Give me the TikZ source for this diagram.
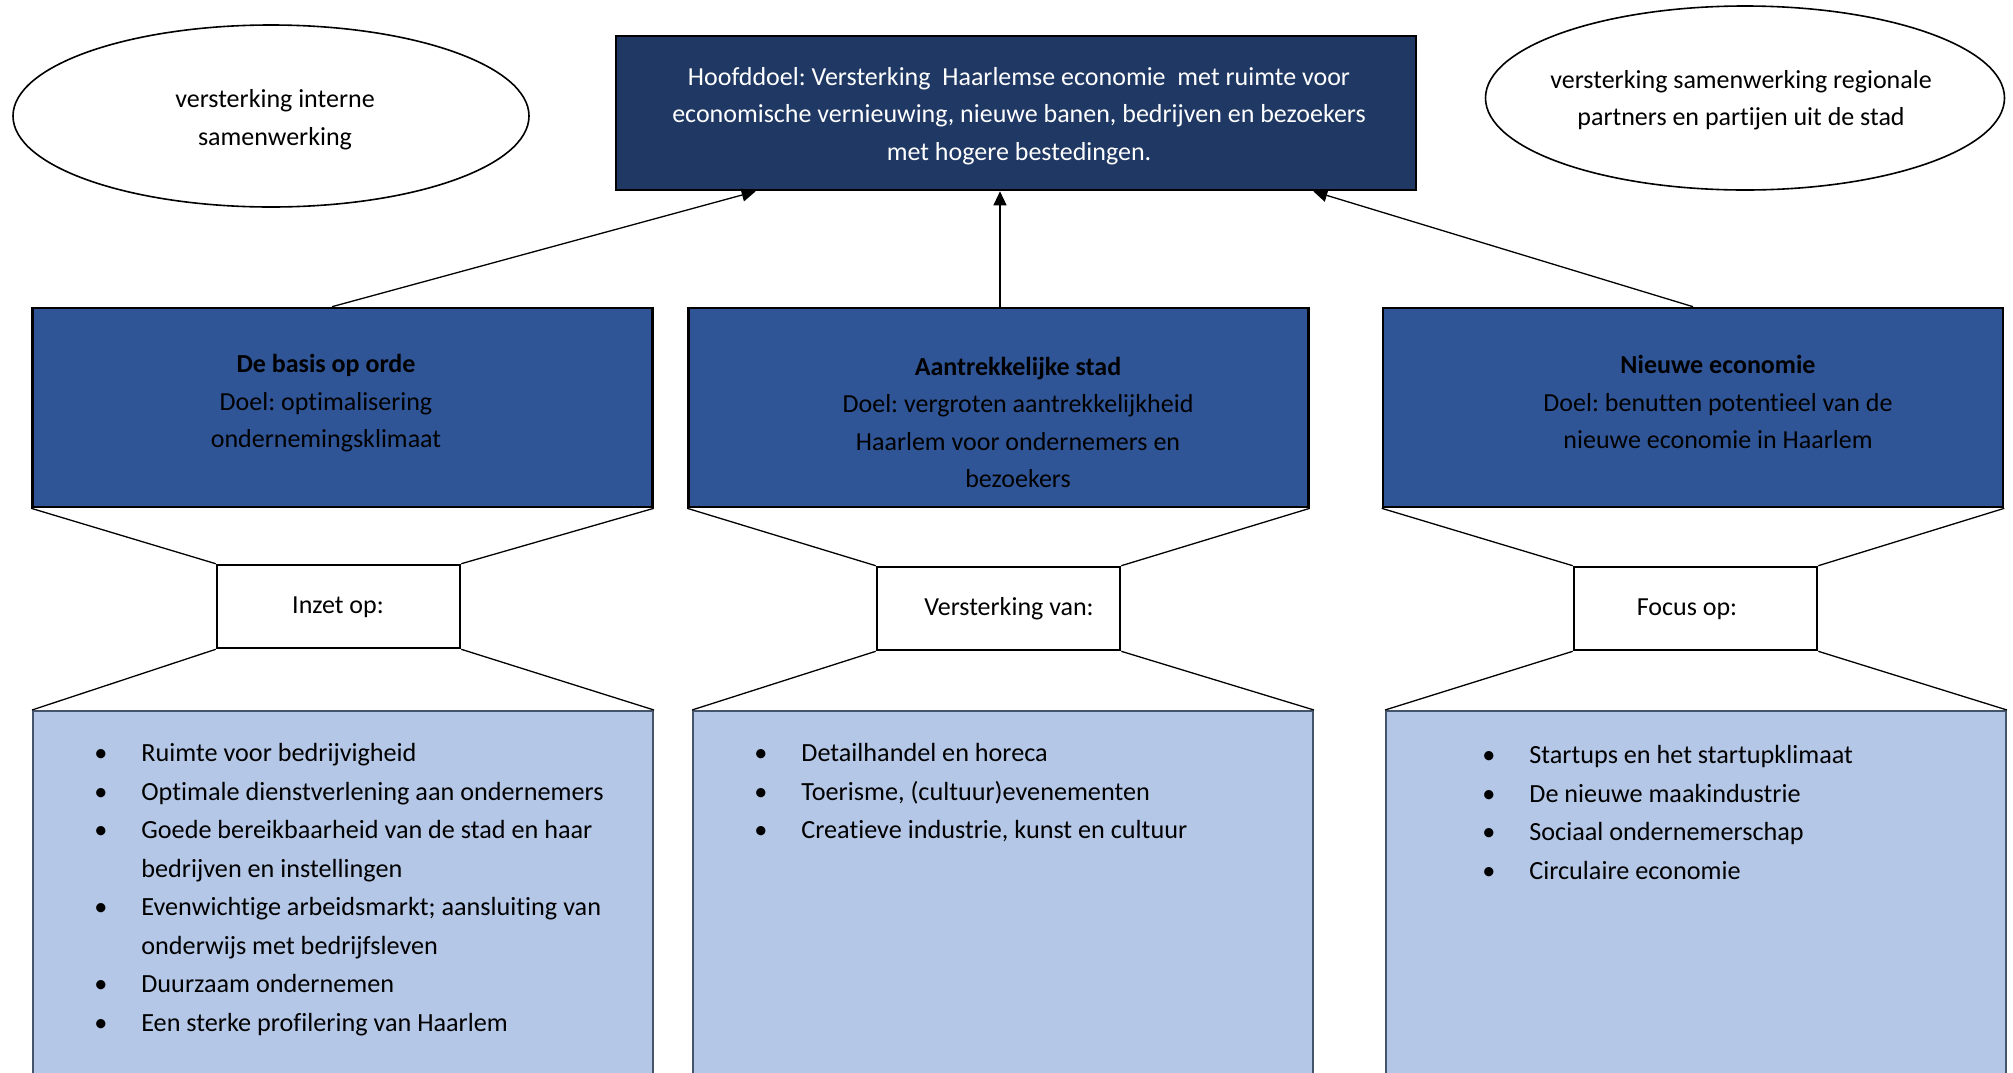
\documentclass[tikz,border=0pt]{standalone}
\usepackage{fontspec}
\setmainfont{Carlito}[Ligatures=NoCommon]
\frenchspacing
\usetikzlibrary{arrows.meta,shapes.geometric,calc}
\definecolor{navy}{HTML}{203864}
\definecolor{boxblue}{HTML}{2F5597}
\definecolor{lightblue}{HTML}{B4C7E7}
\definecolor{listborder}{HTML}{44546A}
\newcommand\bul{\makebox[23.5pt][l]{\textbullet}}
\newcommand\cnt{\hspace*{23.5pt}}
\begin{document}
\begin{tikzpicture}[x=0.5pt,y=-0.5pt,
  txt/.style={font=\fontsize{13}{18.75}\selectfont, align=center, inner sep=0pt},
  listtxt/.style={font=\fontsize{13.1}{19.25}\selectfont, align=left, inner sep=0pt, anchor=west},
  mainbox/.style={draw=black, line width=1.3pt, fill=navy, minimum width=400pt, minimum height=77pt, inner sep=0pt},
  goalbox/.style={draw=black, line width=1.3pt, fill=boxblue, minimum width=310pt, minimum height=99.5pt, inner sep=0pt},
  labelbox/.style={draw=black, line width=1.3pt, fill=white, minimum width=121.5pt, minimum height=41.5pt, inner sep=0pt},
  listbox/.style={draw=listborder, line width=1pt, fill=lightblue, minimum width=310pt, minimum height=195pt, anchor=north west, inner sep=0pt},
  oval/.style={ellipse, draw=black, line width=0.8pt, inner sep=0pt},
  conn/.style={draw=black, line width=0.65pt},
  arr/.style={conn, -{Triangle[length=7pt,width=6.5pt]}}
]
\clip (0,0) rectangle (2013,1072);
\fill[white] (0,0) rectangle (2013,1072);

% ellipses
\node[oval, minimum width=258pt, minimum height=91pt] (eleft) at (271,116) {};
\node[oval, minimum width=259.5pt, minimum height=92pt] (eright) at (1745,98) {};
\node[txt] (eleftt) at (275,119.5) {versterking interne\\samenwerking};
\node[txt] (erightt) at (1741,100) {versterking samenwerking regionale\\partners en partijen uit de stad};

% main box
\node[mainbox] (main) at (1016,113) {};
\node[txt, text=white] (maint) at (1019,116) {Hoofddoel: Versterking\ \ Haarlemse economie\ \ met ruimte voor\\economische vernieuwing, nieuwe banen, bedrijven en bezoekers\\met hogere bestedingen.};

% goal boxes
\node[goalbox] (bl) at (342.5,407.5) {};
\node[goalbox] (bm) at (998.5,407.5) {};
\node[goalbox] (br) at (1693,407.5) {};
\node[txt] (blt) at (326,403.5) {\textbf{De basis op orde}\\Doel: optimalisering\\ondernemingsklimaat};
\node[txt] (bmt) at (1018,422.5) {\textbf{Aantrekkelijke stad}\\Doel: vergroten aantrekkelijkheid\\Haarlem voor ondernemers en\\bezoekers};
\node[txt] (brt) at (1718,402) {\textbf{Nieuwe economie}\\Doel: benutten potentieel van de\\nieuwe economie in Haarlem};

% arrows
\draw[arr] ([xshift=-5.25pt]bl.north) -- ([xshift=70.5pt]main.south west);
\draw[arr] ([xshift=0.75pt]bm.north) -- ([xshift=-8pt]main.south);
\draw[arr] (br.north) -- ([xshift=-52pt]main.south east);

% label boxes
\node[labelbox] (sl) at (338.5,606.5) {};
\node[labelbox] (sm) at (998.5,608.5) {};
\node[labelbox] (sr) at (1695.5,608.5) {};
\node[txt] (slt) at (338,607) {Inzet op:};
\node[txt] (smt) at (1009,609) {Versterking van:};
\node[txt] (srt) at (1687,609) {Focus op:};

% list boxes
\node[listbox] (ll) at (32,710) {};
\node[listbox] (lm) at (692,710) {};
\node[listbox] (lr) at (1385,710) {};

% funnel lines
\foreach \g/\s/\l in {bl/sl/ll, bm/sm/lm, br/sr/lr}{
  \draw[conn] (\g.south west) -- (\s.north west);
  \draw[conn] (\g.south east) -- (\s.north east);
  \draw[conn] (\s.south west) -- (\l.north west);
  \draw[conn] (\s.south east) -- (\l.north east);
}

% lists
\node[listtxt] (llt) at (94,889.5) {\bul Ruimte voor bedrijvigheid\\
\bul Optimale dienstverlening aan ondernemers\\
\bul Goede bereikbaarheid van de stad en haar\\
\cnt bedrijven en instellingen\\
\bul Evenwichtige arbeidsmarkt; aansluiting van\\
\cnt onderwijs met bedrijfsleven\\
\bul Duurzaam ondernemen\\
\bul Een sterke profilering van Haarlem};
\node[listtxt] (lmt) at (754,793) {\bul Detailhandel en horeca\\
\bul Toerisme, (cultuur)evenementen\\
\bul Creatieve industrie, kunst en cultuur};
\node[listtxt] (lrt) at (1482,812.5) {\bul Startups en het startupklimaat\\
\bul De nieuwe maakindustrie\\
\bul Sociaal ondernemerschap\\
\bul Circulaire economie};
\end{tikzpicture}
\end{document}
